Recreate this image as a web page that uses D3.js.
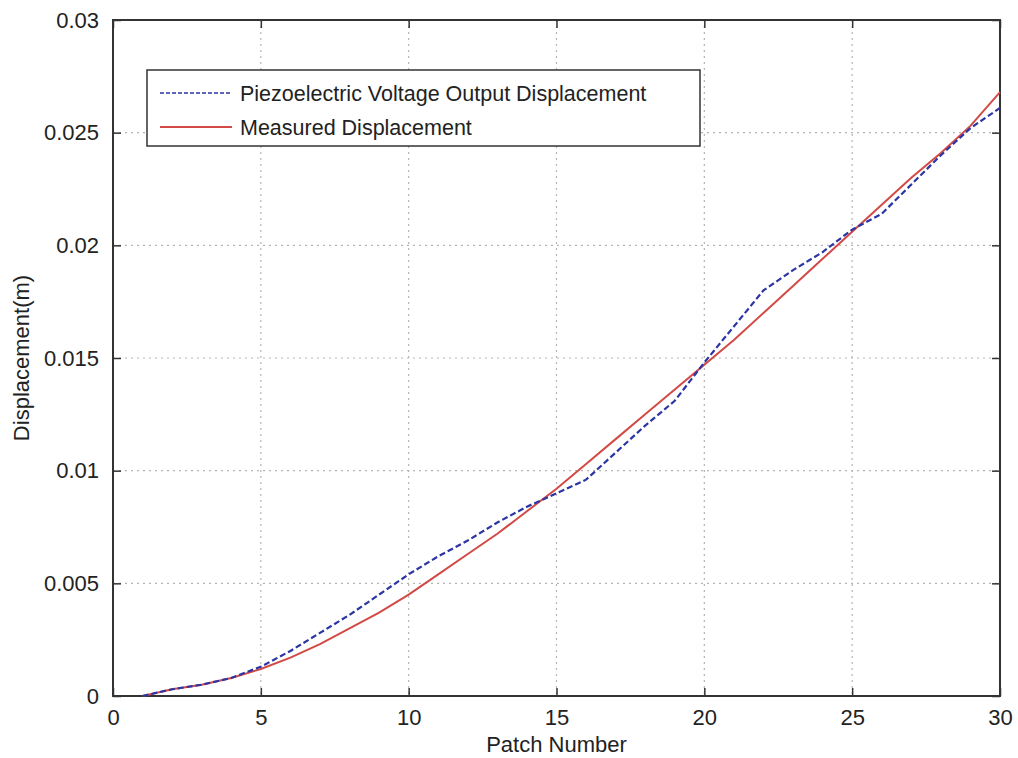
<!DOCTYPE html>
<html>
<head>
<meta charset="utf-8">
<script src="https://cdn.jsdelivr.net/npm/d3@7"></script>
<style>
  body { margin: 0; background: #fff; }
  svg text { font-family: "Liberation Sans", Arial, sans-serif; fill: #222; }
</style>
</head>
<body>
<svg id="chart" width="1018" height="758"></svg>
<script>
// patch index along the beam
var patchNumber = [1, 2, 3, 4, 5, 6, 7, 8, 9, 10, 11, 12, 13, 14, 15,
                   16, 17, 18, 19, 20, 21, 22, 23, 24, 25, 26, 27, 28, 29, 30];
// displacement (m) from piezo voltage output
var piezoDisplacement = [0, 0.0003, 0.0005, 0.0008, 0.0013, 0.0020, 0.0028, 0.0036, 0.0045, 0.0054,
                         0.0062, 0.0069, 0.0077, 0.0084, 0.0090, 0.0096, 0.0108, 0.0120, 0.0131, 0.0148,
                         0.0164, 0.0180, 0.0189, 0.0197, 0.0207, 0.0214, 0.0227, 0.0240, 0.0252, 0.0261];
// measured displacement (m)
var measuredDisplacement = [0, 0.0003, 0.0005, 0.0008, 0.0012, 0.0017, 0.0023, 0.0030, 0.0037, 0.0045,
                            0.0054, 0.0063, 0.0072, 0.0082, 0.0092, 0.0103, 0.0114, 0.0125, 0.0136, 0.0147,
                            0.0158, 0.0170, 0.0182, 0.0194, 0.0206, 0.0218, 0.0230, 0.0241, 0.0253, 0.0268];
var xTicks = [0, 5, 10, 15, 20, 25, 30];
var yTicks = [0, 0.005, 0.01, 0.015, 0.02, 0.025, 0.03];
var yTickLabels = ["0", "0.005", "0.01", "0.015", "0.02", "0.025", "0.03"];
var legendNames = ["Piezoelectric Voltage Output Displacement", "Measured Displacement"];

(function() {
  var svg = d3.select('#chart');
  // plot box in pixels
  var boxLeft = 113, boxRight = 1000, boxTop = 20, boxBottom = 696;

  var x = d3.scaleLinear().domain([0, 30]).range([boxLeft, boxRight]);
  var y = d3.scaleLinear().domain([0, 0.03]).range([boxBottom, boxTop]);

  //背景网格 (dotted grid)
  var grid = svg.append('g').attr('class', 'grid');
  grid.selectAll('line.vx')
    .data(xTicks.slice(1, -1))
    .enter().append('line')
    .attr('x1', d => x(d)).attr('x2', d => x(d))
    .attr('y1', boxTop).attr('y2', boxBottom)
    .style('stroke', '#b5b5b5').style('stroke-width', 1.2).style('stroke-dasharray', '2,4');
  grid.selectAll('line.hy')
    .data(yTicks.slice(1, -1))
    .enter().append('line')
    .attr('x1', boxLeft).attr('x2', boxRight)
    .attr('y1', d => y(d)).attr('y2', d => y(d))
    .style('stroke', '#b5b5b5').style('stroke-width', 1.2).style('stroke-dasharray', '2,4');

  // axes with inward ticks on all four sides
  var axisColor = '#333';
  function styleAxis(g) {
    g.select('.domain').remove();
    g.selectAll('.tick line').style('stroke', axisColor).style('stroke-width', 1.5);
    g.selectAll('.tick text').style('font-size', '22px').style('fill', '#222');
  }
  svg.append('g').attr('transform', 'translate(0,' + boxBottom + ')')
    .call(d3.axisBottom(x).tickValues(xTicks).tickSize(-8).tickPadding(13).tickFormat(d3.format('d')))
    .call(styleAxis);
  svg.append('g').attr('transform', 'translate(0,' + boxTop + ')')
    .call(d3.axisTop(x).tickValues(xTicks).tickSize(-8).tickFormat(''))
    .call(styleAxis);
  svg.append('g').attr('transform', 'translate(' + boxLeft + ',0)')
    .call(d3.axisLeft(y).tickValues(yTicks).tickSize(-8).tickPadding(14)
      .tickFormat((d, i) => yTickLabels[i]))
    .call(styleAxis);
  svg.append('g').attr('transform', 'translate(' + boxRight + ',0)')
    .call(d3.axisRight(y).tickValues(yTicks).tickSize(-8).tickFormat(''))
    .call(styleAxis);

  svg.append('rect')
    .attr('x', boxLeft).attr('y', boxTop)
    .attr('width', boxRight - boxLeft).attr('height', boxBottom - boxTop)
    .style('fill', 'none').style('stroke', axisColor).style('stroke-width', 2);

  // series lines
  var piezoColor = '#2b35a3', measuredColor = '#d24a45';
  var line = d3.line().x(d => x(d[0])).y(d => y(d[1]));

  svg.append('path')
    .datum(patchNumber.map((p, i) => [p, measuredDisplacement[i]]))
    .attr('d', line)
    .style('fill', 'none').style('stroke', measuredColor).style('stroke-width', 2);

  svg.append('path')
    .datum(patchNumber.map((p, i) => [p, piezoDisplacement[i]]))
    .attr('d', line)
    .style('fill', 'none').style('stroke', piezoColor).style('stroke-width', 2.2)
    .style('stroke-dasharray', '6,3');

  // axis titles
  svg.append('text')
    .attr('x', (boxLeft + boxRight) / 2).attr('y', 752)
    .attr('text-anchor', 'middle')
    .style('font-size', '22px')
    .text('Patch Number');
  svg.append('text')
    .attr('transform', 'translate(29,' + ((boxTop + boxBottom) / 2) + ') rotate(-90)')
    .attr('text-anchor', 'middle')
    .style('font-size', '22px')
    .text('Displacement(m)');

  // legend
  var legend = svg.append('g').attr('transform', 'translate(147,70)');
  legend.append('rect')
    .attr('width', 553).attr('height', 76)
    .style('fill', '#fff').style('stroke', '#333').style('stroke-width', 1.5);
  var legendItems = [
    { name: legendNames[0], color: piezoColor, dash: '4,2', w: 1.4 },
    { name: legendNames[1], color: measuredColor, dash: null, w: 2 }
  ];
  legendItems.forEach(function(item, i) {
    var cy = 23 + i * 34;
    legend.append('line')
      .attr('x1', 13).attr('x2', 85).attr('y1', cy).attr('y2', cy)
      .style('stroke', item.color).style('stroke-width', item.w)
      .style('stroke-dasharray', item.dash);
    legend.append('text')
      .attr('x', 93).attr('y', cy + 7.5)
      .style('font-size', '21.5px')
      .text(item.name);
  });
})();
</script>
</body>
</html>
